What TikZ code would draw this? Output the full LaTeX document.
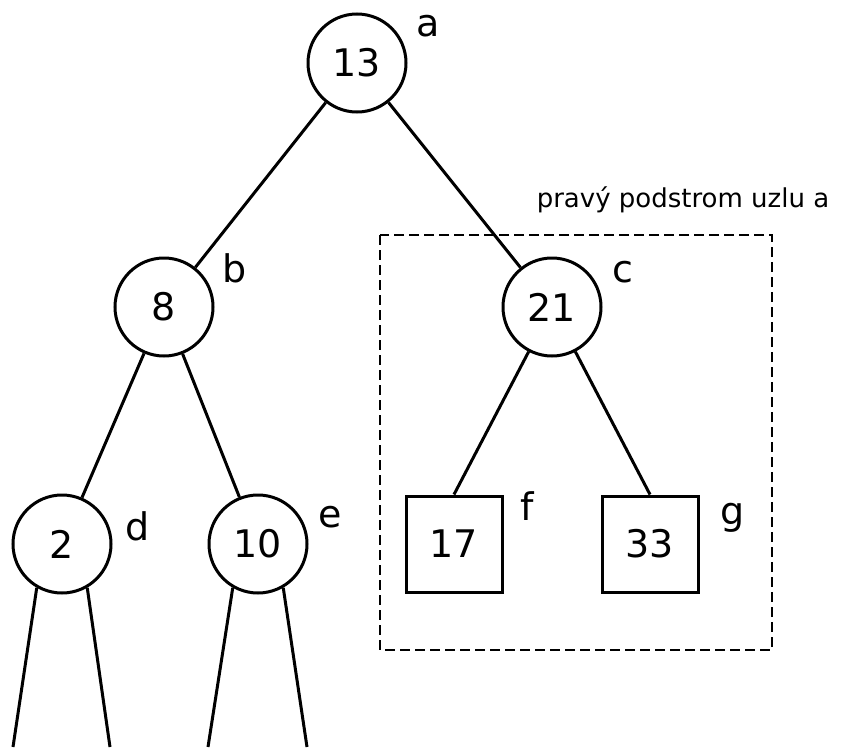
\documentclass[tikz,border=0pt]{standalone}
\usepackage{fontspec}
\setmainfont{DejaVu Sans}
\usepackage{tikz}
\usetikzlibrary{calc}

\begin{document}
\begin{tikzpicture}[
    x=1pt, y=-1pt,
    vtx/.style={draw, circle, line width=3pt, minimum size=98pt, inner sep=0pt, font=\fontsize{38}{40}\selectfont},
    leaf/.style={draw, rectangle, line width=3pt, minimum size=96pt, inner sep=0pt, font=\fontsize{38}{40}\selectfont},
    lbl/.style={inner sep=0pt, font=\fontsize{38}{40}\selectfont},
    ln/.style={line width=3pt},
    dashbox/.style={dash pattern=on 10pt off 5pt, line width=1.5pt}
]
    \useasboundingbox (0,0) rectangle (843,747);

    % Tree nodes
    \node[vtx] (a) at (357,63)  {13};
    \node[vtx] (b) at (164,307) {8};
    \node[vtx] (c) at (552,307) {21};
    \node[vtx] (d) at (62,544)  {2};
    \node[vtx] (e) at (258,544) {10};
    \node[leaf] (f) at (454,544) {17};
    \node[leaf] (g) at (650,544) {33};

    % Node names
    \node[lbl] (la) at (428,26)  {a};
    \node[lbl] (lb) at (235,268) {b};
    \node[lbl] (lc) at (623,272) {c};
    \node[lbl] (ld) at (138,526) {d};
    \node[lbl] (le) at (330,517) {e};
    \node[lbl] (lf) at (527,506) {f};
    \node[lbl] (lg) at (733,518) {g};

    % Edges
    \draw[ln] (a) -- (b);
    \draw[ln] (a) -- (c);
    \draw[ln] (b) -- (d);
    \draw[ln] (b) -- (e);
    \draw[ln] (c) -- (f.north);
    \draw[ln] (c) -- (g.north);

    % Subtrees below d and e, cut off at the bottom
    \coordinate (d-l) at (13,747);
    \coordinate (d-r) at (110,747);
    \coordinate (e-l) at (208,747);
    \coordinate (e-r) at (307,747);
    \draw[ln] (d.240) -- (d-l);
    \draw[ln] (d.300) -- (d-r);
    \draw[ln] (e.240) -- (e-l);
    \draw[ln] (e.300) -- (e-r);

    % Right subtree of a
    \coordinate (box-nw) at (380,235);
    \coordinate (box-se) at (772,650);
    \draw[dashbox] (box-nw) rectangle (box-se);
    \node[anchor=base, inner sep=0pt, font=\fontsize{26}{30}\selectfont] (sub) at (683,207) {pravý podstrom uzlu a};
\end{tikzpicture}
\end{document}
